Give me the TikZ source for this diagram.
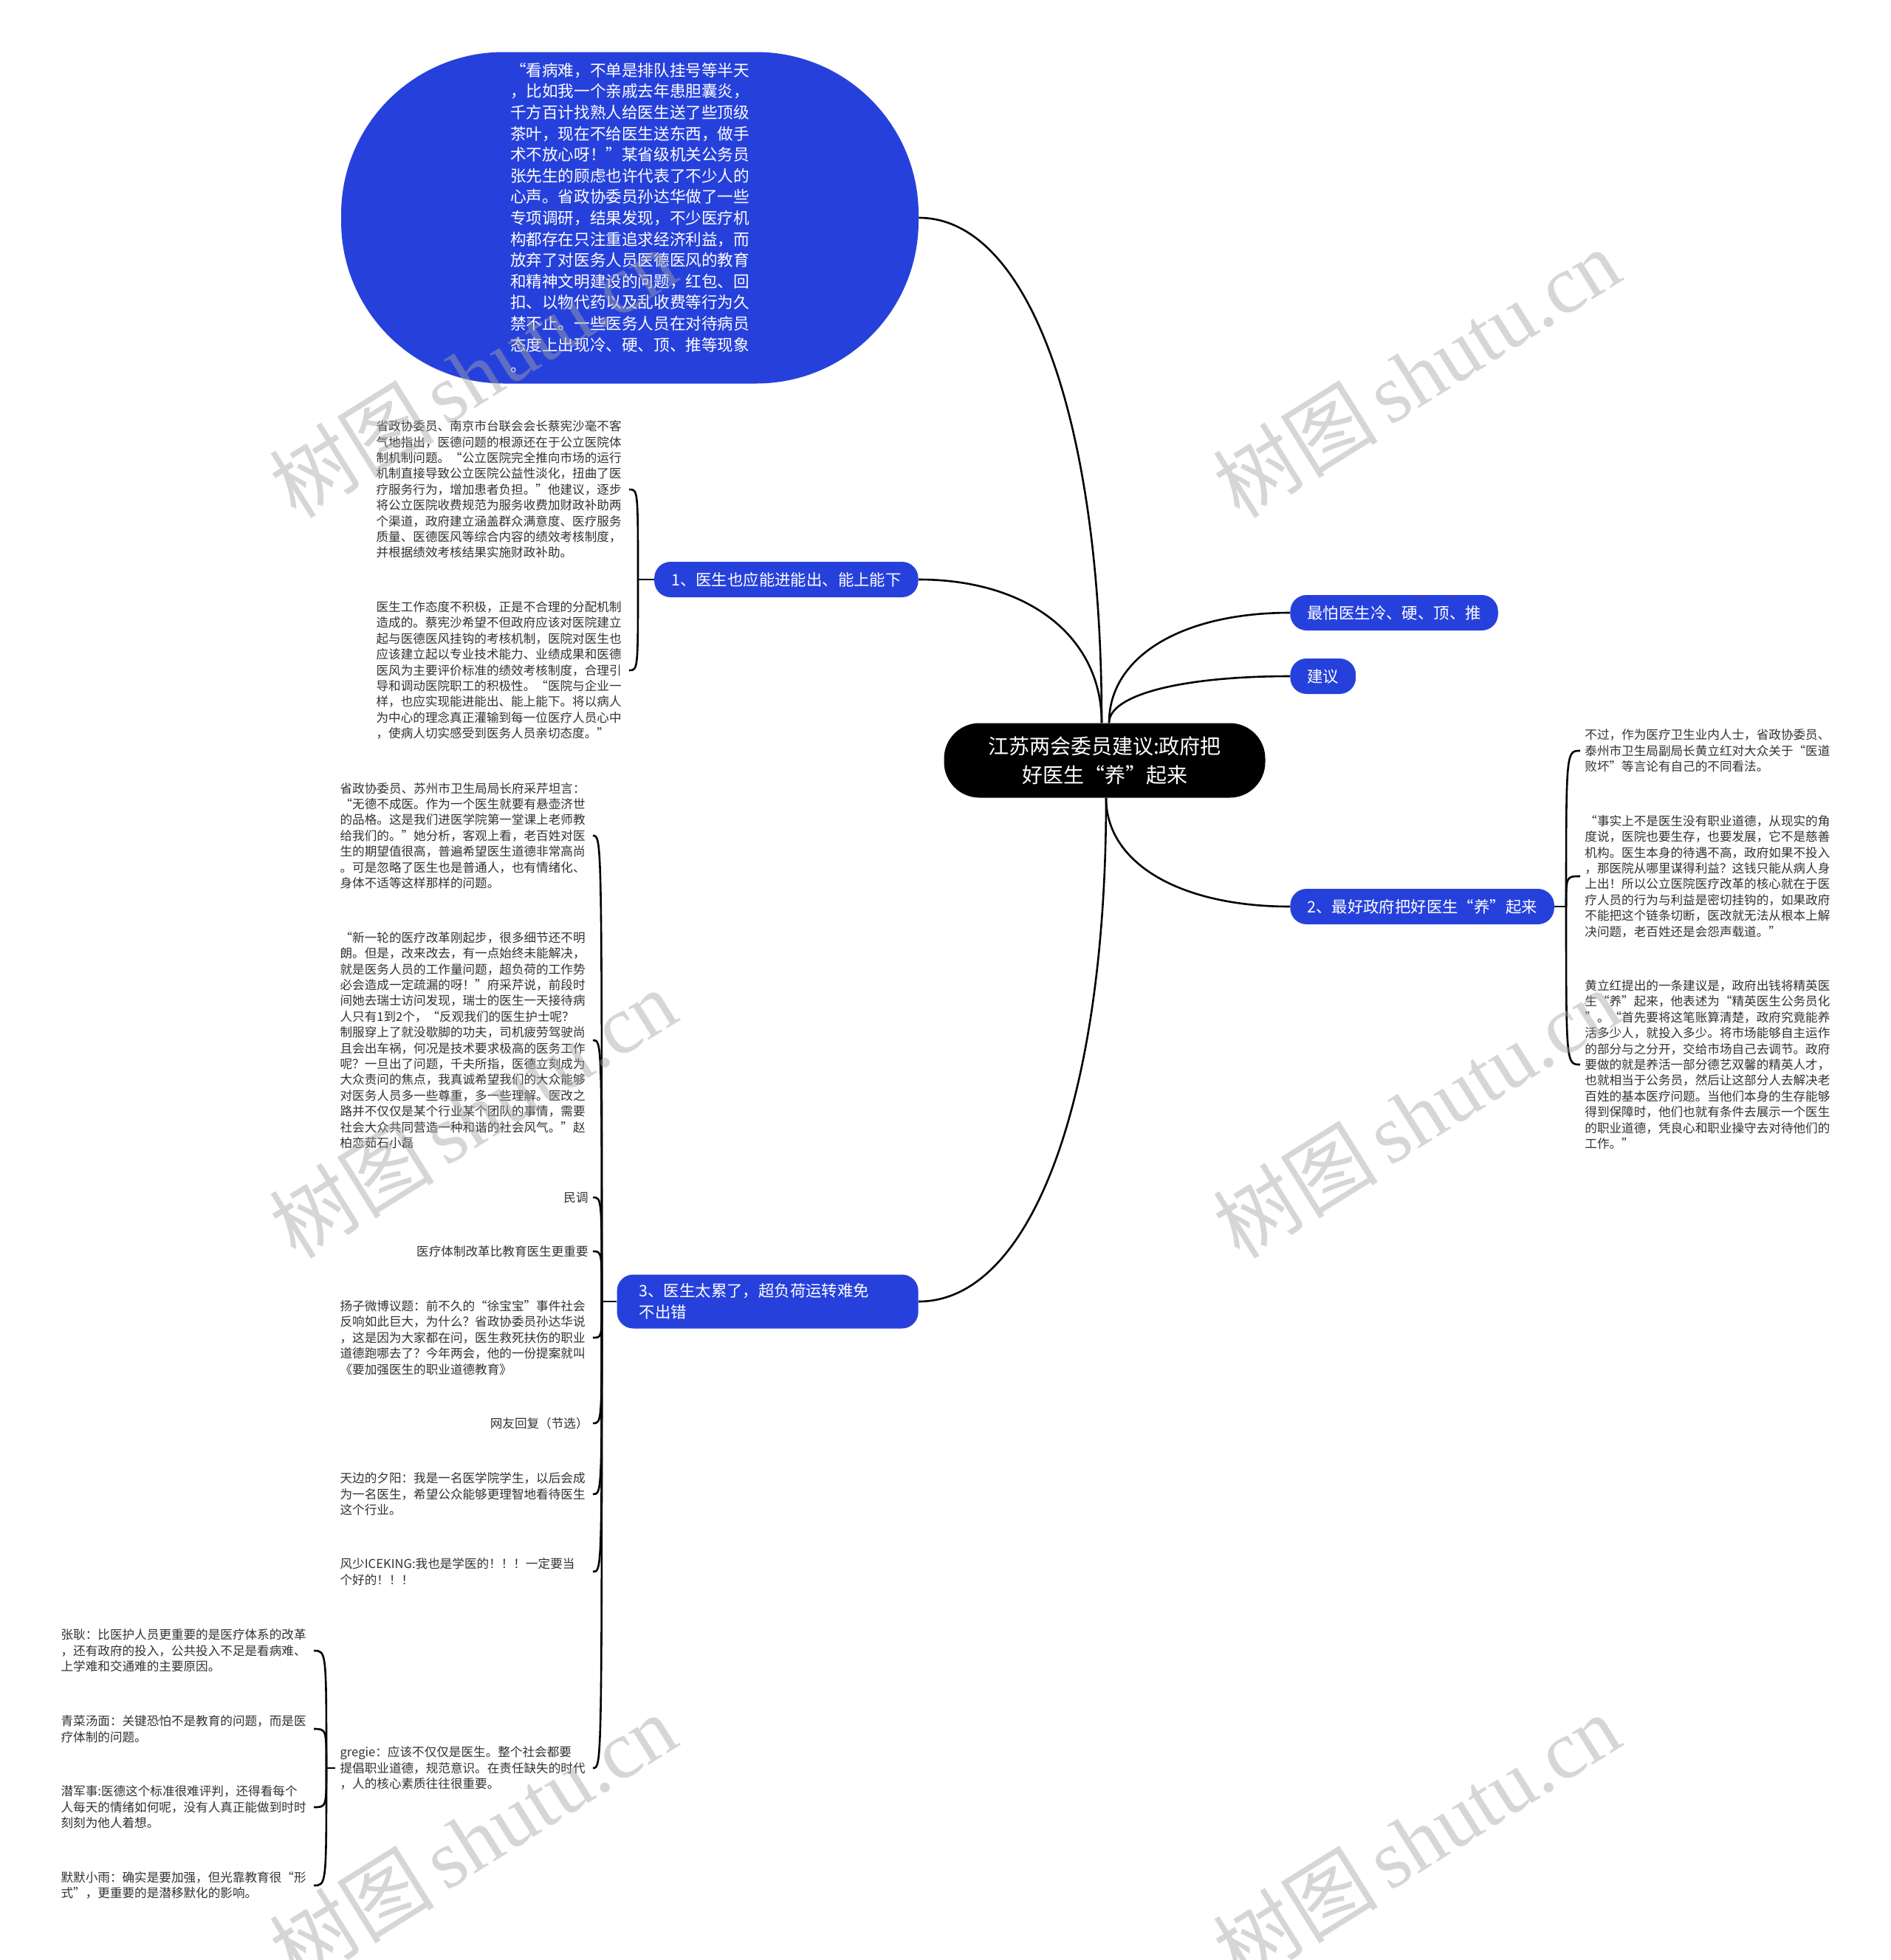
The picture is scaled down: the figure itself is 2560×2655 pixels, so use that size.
\documentclass[tikz,border=0pt]{standalone}
\usepackage{fontspec}
\setmainfont{Noto Sans CJK SC}
\newfontfamily\markfont{Liberation Serif}
\usetikzlibrary{positioning,calc}
\definecolor{mapblue}{RGB}{38,65,219}
\definecolor{leafgray}{RGB}{50,50,50}
\definecolor{markgray}{RGB}{165,165,165}
\tikzset{
rootbox/.style={fill=black,text=white,rounded corners=24pt,minimum width=217.5pt,minimum height=50.5pt,
inner sep=0pt,align=center,font=\fontsize{14}{19.5}\selectfont},
kidbox/.style={fill=mapblue,text=white,rounded corners=11pt,minimum height=24pt,inner xsep=11.5pt,
inner ysep=0pt,font=\fontsize{10.7}{14.5}\selectfont},
bubble/.style={fill=mapblue,text=white,rounded corners=110pt,minimum width=391pt,minimum height=224.5pt,
inner sep=0pt,align=left,font=\fontsize{10.8}{14.3}\selectfont},
leaf/.style={text=leafgray,inner xsep=3pt,inner ysep=2pt,font=\fontsize{8.3}{10.7}\selectfont},
longleaf/.style={leaf,text width=168pt,align=left},
link/.style={draw=black,line width=1.3pt},
wmark/.style={text=markgray,opacity=0.45,rotate=32,font=\fontsize{56}{60}\selectfont}
}

\begin{document}
\begin{tikzpicture}[x=0.5pt,y=-0.5pt]
\useasboundingbox (0,0) rectangle (2560,2655);
\fill[white] (0,0) rectangle (2560,2655);

% centre and main branches
\node[rootbox] (root) at (1496,1030) {江苏两会委员建议:政府把\\好医生“养”起来};
\node[bubble] (quote) at (853,295) {“看病难，不单是排队挂号等半天\\，比如我一个亲戚去年患胆囊炎，\\千方百计找熟人给医生送了些顶级\\茶叶，现在不给医生送东西，做手\\术不放心呀！”某省级机关公务员\\张先生的顾虑也许代表了不少人的\\心声。省政协委员孙达华做了一些\\专项调研，结果发现，不少医疗机\\构都存在只注重追求经济利益，而\\放弃了对医务人员医德医风的教育\\和精神文明建设的问题，红包、回\\扣、以物代药以及乱收费等行为久\\禁不止。一些医务人员在对待病员\\态度上出现冷、硬、顶、推等现象\\。};
\node[kidbox,anchor=east] (kid1) at (1244,785) {1、医生也应能进能出、能上能下};
\node[kidbox,anchor=west] (fear) at (1747,830) {最怕医生冷、硬、顶、推};
\node[kidbox,anchor=west] (advice) at (1747,916) {建议};
\node[kidbox,anchor=west] (kid2) at (1747,1228) {2、最好政府把好医生“养”起来};
\node[kidbox,anchor=east,text width=174pt,align=left,minimum height=36.5pt,inner xsep=15pt] (kid3) at (1244,1763) {3、医生太累了，超负荷运转难免\\不出错};

\coordinate (top) at ([xshift=-2pt]root.north);
\coordinate (topr) at ([xshift=3pt]root.north);
\coordinate (bot) at ([xshift=1pt]root.south);
\draw[link] (top) .. controls ($(top)!0.6!(top |- quote.east)$) and ($(quote.east)!0.6!(top |- quote.east)$) .. (quote.east);
\draw[link] (top) .. controls ($(top)!0.6!(top |- kid1.east)$) and ($(kid1.east)!0.6!(top |- kid1.east)$) .. (kid1.east);
\draw[link] (topr) .. controls ($(topr)!0.6!(topr |- fear.west)$) and ($(fear.west)!0.6!(topr |- fear.west)$) .. (fear.west);
\draw[link] (topr) .. controls ($(topr)!0.6!(topr |- advice.west)$) and ($(advice.west)!0.6!(topr |- advice.west)$) .. (advice.west);
\draw[link] (bot) .. controls ($(bot)!0.6!(bot |- kid2.west)$) and ($(kid2.west)!0.6!(bot |- kid2.west)$) .. (kid2.west);
\draw[link] (bot) .. controls ($(bot)!0.6!(bot |- kid3.east)$) and ($(kid3.east)!0.6!(bot |- kid3.east)$) .. (kid3.east);

% branch 1
\node[longleaf,anchor=east] (hospital) at (852,663) {省政协委员、南京市台联会会长蔡宪沙毫不客\\气地指出，医德问题的根源还在于公立医院体\\制机制问题。“公立医院完全推向市场的运行\\机制直接导致公立医院公益性淡化，扭曲了医\\疗服务行为，增加患者负担。”他建议，逐步\\将公立医院收费规范为服务收费加财政补助两\\个渠道，政府建立涵盖群众满意度、医疗服务\\质量、医德医风等综合内容的绩效考核制度，\\并根据绩效考核结果实施财政补助。};
\node[longleaf,anchor=east] (attitude) at (852,908) {医生工作态度不积极，正是不合理的分配机制\\造成的。蔡宪沙希望不但政府应该对医院建立\\起与医德医风挂钩的考核机制，医院对医生也\\应该建立起以专业技术能力、业绩成果和医德\\医风为主要评价标准的绩效考核制度，合理引\\导和调动医院职工的积极性。“医院与企业一\\样，也应实现能进能出、能上能下。将以病人\\为中心的理念真正灌输到每一位医疗人员心中\\，使病人切实感受到医务人员亲切态度。”};
\coordinate (j1) at (864,785);
\draw[link] (kid1.west) -- (j1);
\foreach \n in {hospital,attitude}
  \draw[link] (j1) .. controls (j1 |- \n.east) .. (\n.east);

% branch 2
\node[longleaf,anchor=west] (insider) at (2140,1017) {不过，作为医疗卫生业内人士，省政协委员、\\泰州市卫生局副局长黄立红对大众关于“医道\\败坏”等言论有自己的不同看法。};
\node[longleaf,anchor=west] (market) at (2140,1187) {“事实上不是医生没有职业道德，从现实的角\\度说，医院也要生存，也要发展，它不是慈善\\机构。医生本身的待遇不高，政府如果不投入\\，那医院从哪里谋得利益？这钱只能从病人身\\上出！所以公立医院医疗改革的核心就在于医\\疗人员的行为与利益是密切挂钩的，如果政府\\不能把这个链条切断，医改就无法从根本上解\\决问题，老百姓还是会怨声载道。”};
\node[longleaf,anchor=west] (elite) at (2140,1442) {黄立红提出的一条建议是，政府出钱将精英医\\生“养”起来，他表述为“精英医生公务员化\\”。“首先要将这笔账算清楚，政府究竟能养\\活多少人，就投入多少。将市场能够自主运作\\的部分与之分开，交给市场自己去调节。政府\\要做的就是养活一部分德艺双馨的精英人才，\\也就相当于公务员，然后让这部分人去解决老\\百姓的基本医疗问题。当他们本身的生存能够\\得到保障时，他们也就有条件去展示一个医生\\的职业道德，凭良心和职业操守去对待他们的\\工作。”};
\coordinate (j2) at (2121,1228);
\draw[link] (kid2.east) -- (j2);
\foreach \n in {insider,market,elite}
  \draw[link] (j2) .. controls (j2 |- \n.west) .. (\n.west);

% branch 3
\node[longleaf,anchor=east] (ethic) at (803,1132) {省政协委员、苏州市卫生局局长府采芹坦言：\\“无德不成医。作为一个医生就要有悬壶济世\\的品格。这是我们进医学院第一堂课上老师教\\给我们的。”她分析，客观上看，老百姓对医\\生的期望值很高，普遍希望医生道德非常高尚\\。可是忽略了医生也是普通人，也有情绪化、\\身体不适等这样那样的问题。};
\node[longleaf,anchor=east] (overload) at (803,1409) {“新一轮的医疗改革刚起步，很多细节还不明\\朗。但是，改来改去，有一点始终未能解决，\\就是医务人员的工作量问题，超负荷的工作势\\必会造成一定疏漏的呀！”府采芹说，前段时\\间她去瑞士访问发现，瑞士的医生一天接待病\\人只有1到2个，“反观我们的医生护士呢？\\制服穿上了就没歇脚的功夫，司机疲劳驾驶尚\\且会出车祸，何况是技术要求极高的医务工作\\呢？一旦出了问题，千夫所指，医德立刻成为\\大众责问的焦点，我真诚希望我们的大众能够\\对医务人员多一些尊重，多一些理解。医改之\\路并不仅仅是某个行业某个团队的事情，需要\\社会大众共同营造一种和谐的社会风气。”赵\\柏恋茹石小磊};
\node[leaf,anchor=east] (poll) at (803,1622) {民调};
\node[leaf,anchor=east] (system) at (803,1695) {医疗体制改革比教育医生更重要};
\node[longleaf,anchor=east] (weibo) at (803,1812) {扬子微博议题：前不久的“徐宝宝”事件社会\\反响如此巨大，为什么？省政协委员孙达华说\\，这是因为大家都在问，医生救死扶伤的职业\\道德跑哪去了？今年两会，他的一份提案就叫\\《要加强医生的职业道德教育》};
\node[leaf,anchor=east] (replies) at (803,1928) {网友回复（节选）};
\node[longleaf,anchor=east] (sunset) at (803,2024) {天边的夕阳：我是一名医学院学生，以后会成\\为一名医生，希望公众能够更理智地看待医生\\这个行业。};
\node[longleaf,anchor=east] (iceking) at (803,2129) {风少ICEKING:我也是学医的！！！一定要当\\个好的！！！};
\node[longleaf,anchor=east] (gregie) at (803,2395) {gregie：应该不仅仅是医生。整个社会都要\\提倡职业道德，规范意识。在责任缺失的时代\\，人的核心素质往往很重要。};
\coordinate (j3) at (815,1763);
\draw[link] (kid3.west) -- (j3);
\foreach \n in {ethic,overload,poll,system,weibo,replies,sunset,iceking,gregie}
  \draw[link] (j3) .. controls (j3 |- \n.east) .. (\n.east);

% replies under gregie
\node[longleaf,anchor=east] (zhang) at (425,2236) {张耿：比医护人员更重要的是医疗体系的改革\\，还有政府的投入，公共投入不足是看病难、\\上学难和交通难的主要原因。};
\node[longleaf,anchor=east] (qingcai) at (425,2342) {青菜汤面：关键恐怕不是教育的问题，而是医\\疗体制的问题。};
\node[longleaf,anchor=east] (qianjun) at (425,2448) {潜军事:医德这个标准很难评判，还得看每个\\人每天的情绪如何呢，没有人真正能做到时时\\刻刻为他人着想。};
\node[longleaf,anchor=east] (momo) at (425,2554) {默默小雨：确实是要加强，但光靠教育很“形\\式”，更重要的是潜移默化的影响。};
\coordinate (j4) at (442,2395);
\draw[link] (gregie.west) -- (j4);
\foreach \n in {zhang,qingcai,qianjun,momo}
  \draw[link] (j4) .. controls (j4 |- \n.east) .. (\n.east);

% watermark
\foreach \wx in {640,1918}
  \foreach \wy in {505,1508,2490}
    \node[wmark] (mark\wx\wy) at (\wx,\wy) {树图\hspace{8pt}{\markfont shutu.cn}};
\end{tikzpicture}
\end{document}
